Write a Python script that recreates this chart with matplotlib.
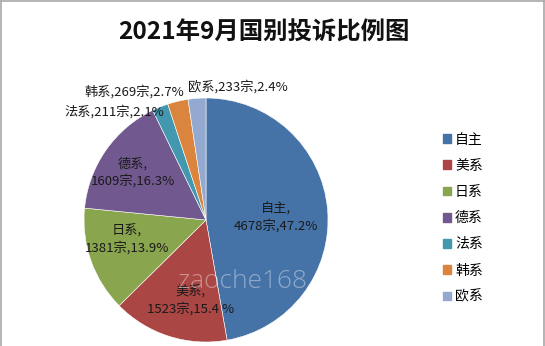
import matplotlib.pyplot as plt
from matplotlib.lines import Line2D

plt.rcParams['font.family'] = ['Noto Sans CJK SC', 'DejaVu Sans']

# 2021年9月 投诉量按车系
brands = ['自主', '美系', '日系', '德系', '法系', '韩系', '欧系']
counts = [4678, 1523, 1381, 1609, 211, 269, 233]
shares = ['47.2%', '15.4 %', '13.9%', '16.3%', '2.1%', '2.7%', '2.4%']
colors = ['#4572A7', '#AA4643', '#89A54E', '#71588F', '#4198AF', '#DB843D', '#93A9CF']

# 标签位置 (饼图半径=1)
label_pos = [(0.57, 0.02), (-0.13, -0.66), (-0.65, -0.16), (-0.60, 0.39),
             (-0.75, 0.89), (-0.59, 1.05), (0.26, 1.09)]
label_wrap = [True, True, True, True, False, False, False]

fig = plt.figure(figsize=(5.45, 3.46), dpi=100)

# 外框 (上、左、右)
for xs, ys in [([0.001, 0.999], [0.997, 0.997]), ([0.001, 0.001], [0, 0.997]),
               ([0.999, 0.999], [0, 0.997])]:
    fig.add_artist(Line2D(xs, ys, transform=fig.transFigure, color='#a8a8a8', lw=1.2))

fig.text(0.485, 0.905, '2021年9月国别投诉比例图', ha='center', va='center',
         fontsize=17.6, fontweight='bold', color='#111111')

# 饼图中心约 (206, 220) px, 半径 122 px
cx, cy, r = 206, 220, 122
W, H = 545, 346
ax = fig.add_axes([(cx - r) / W, (H - cy - r) / H, 2 * r / W, 2 * r / H])
wedges, _ = ax.pie(counts, colors=colors, startangle=90, counterclock=False,
                   wedgeprops=dict(edgecolor='white', linewidth=0.4))
ax.set_xlim(-1, 1)
ax.set_ylim(-1, 1)
ax.set_aspect('equal')

for name, n, s, (x, y), wrap in zip(brands, counts, shares, label_pos, label_wrap):
    sep = ',\n' if wrap else ','
    ax.text(x, y, f'{name}{sep}{n}宗,{s}', ha='center', va='center',
            fontsize=9.5, color='#1a1a1a', linespacing=1.25, clip_on=False)

# 水印
ax.text(0.30, -0.50, 'zaoche168', ha='center', va='center', fontsize=19,
        color='white', alpha=0.4, family='Open Sans', fontweight='light')

# 图例
handles = [plt.Rectangle((0, 0), 1, 1, color=c) for c in colors]
fig.legend(handles, brands, loc='upper left', bbox_to_anchor=(430 / W, 1 - 120 / H),
           frameon=False, fontsize=10, handlelength=0.6, handleheight=0.6,
           handletextpad=0.3, labelspacing=0.88)

plt.savefig('out.png', dpi=100)
